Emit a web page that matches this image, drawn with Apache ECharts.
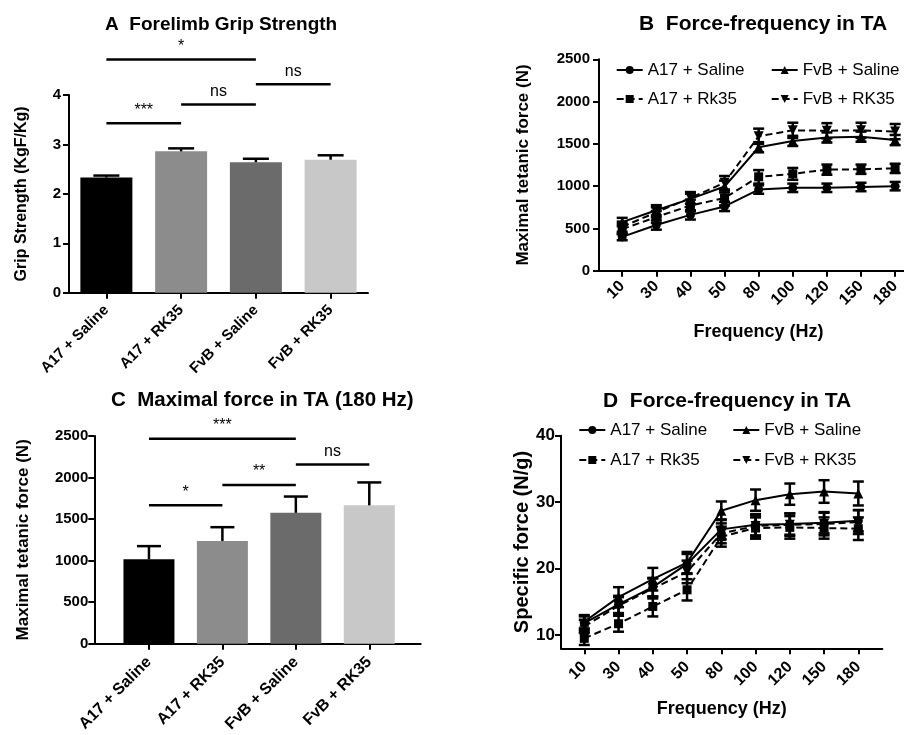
<!DOCTYPE html>
<html>
<head>
<meta charset="utf-8">
<script src="https://cdn.jsdelivr.net/npm/echarts@6/dist/echarts.min.js"></script>
<style>
  html, body { margin: 0; padding: 0; background: #fff; }
  #main { width: 904px; height: 735px; }
</style>
</head>
<body>
<div id="main"></div>
<script>
// group names for the bar panels
var groups = ['A17 + Saline', 'A17 + RK35', 'FvB + Saline', 'FvB + RK35'];
// A: grip strength (KgF/Kg)
var gripMean = [2.33, 2.86, 2.64, 2.69];
var gripErr = [0.04, 0.06, 0.07, 0.09];
// [from group, to group, level, label]
var gripSig = [[0, 2, 4.72, '*'], [0, 1, 3.43, '***'], [1, 2, 3.81, 'ns'], [2, 3, 4.22, 'ns']];
// C: maximal force at 180 Hz (N)
var forceMean = [1016, 1236, 1575, 1665];
var forceErr = [158, 166, 196, 276];
var forceSig = [[0, 2, 2468, '***'], [0, 1, 1665, '*'], [1, 2, 1910, '**'], [2, 3, 2157, 'ns']];

// B / D: force-frequency curves
var freqs = ['10', '30', '40', '50', '80', '100', '120', '150', '180'];
var lineNames = ['A17 + Saline', 'A17 + Rk35', 'FvB + Saline', 'FvB + RK35'];
var tetA17Sal = [400, 540, 660, 760, 960, 980, 980, 990, 1000];
var tetA17Rk = [490, 635, 770, 860, 1110, 1145, 1195, 1200, 1210];
var tetFvbSal = [575, 715, 850, 995, 1460, 1535, 1575, 1585, 1545];
var tetFvbRk = [520, 690, 860, 1040, 1590, 1660, 1655, 1660, 1645];
var tetA17SalErr = [40, 55, 55, 55, 50, 50, 50, 50, 50];
var tetA17RkErr = [60, 70, 70, 90, 80, 70, 60, 55, 55];
var tetFvbSalErr = [50, 60, 60, 70, 60, 60, 60, 60, 60];
var tetFvbRkErr = [60, 60, 70, 80, 90, 90, 90, 90, 90];

var specA17Sal = [11.8, 14.6, 17.2, 20.7, 25.9, 26.6, 26.7, 26.9, 27.2];
var specA17Rk = [9.5, 11.7, 14.3, 16.8, 24.8, 26.1, 26.2, 26.1, 26.0];
var specFvbSal = [12.0, 15.7, 18.4, 20.9, 28.7, 30.3, 31.2, 31.6, 31.3];
var specFvbRk = [11.3, 14.4, 17.0, 19.5, 25.3, 26.4, 26.6, 26.7, 27.0];
var specA17SalErr = [1.0, 1.3, 1.4, 1.5, 1.5, 1.6, 1.6, 1.6, 1.6];
var specA17RkErr = [1.0, 1.2, 1.5, 1.6, 1.5, 1.6, 1.7, 1.6, 1.7];
var specFvbSalErr = [1.0, 1.5, 1.7, 1.6, 1.4, 1.6, 1.6, 1.7, 1.8];
var specFvbRkErr = [1.0, 1.3, 1.5, 1.7, 1.5, 1.6, 1.7, 1.7, 1.8];
var specTicks = [10, 20, 30, 40];

var barColors = ['#000000', '#8c8c8c', '#6b6b6b', '#c8c8c8'];
var symbols = ['circle', 'rect', 'triangle', 'path://M0,0 L10,0 L5,10 Z'];
var symbolSizes = [9, 9, 10, 10];
var dashed = [false, true, false, true];

var FONT = '"Liberation Sans", Arial, sans-serif';
var myChart = echarts.init(document.getElementById('main'));

function idx(arr) {
  return arr.map(function (v, i) { return i; });
}

function axisBase(extra) {
  var o = {
    axisLine: { show: true, onZero: false, lineStyle: { color: '#000', width: 2 } },
    axisTick: { show: true, length: 6, lineStyle: { color: '#000', width: 2 } },
    splitLine: { show: false },
    axisLabel: { color: '#000', fontFamily: FONT, fontWeight: 'bold', fontSize: 15 },
    nameTextStyle: { color: '#000', fontFamily: FONT, fontWeight: 'bold', fontSize: 17 }
  };
  for (var k in extra) {
    if (typeof extra[k] === 'object' && o[k] && !Array.isArray(extra[k])) {
      for (var j in extra[k]) o[k][j] = extra[k][j];
    } else {
      o[k] = extra[k];
    }
  }
  return o;
}

// error bars: both sides for curves, upper only for bars
function errRender(capW, upperOnly) {
  return function (params, api) {
    var x = api.value(0), y = api.value(1), e = api.value(2);
    var hi = api.coord([x, y + e]);
    var lo = upperOnly ? api.coord([x, y]) : api.coord([x, y - e]);
    var st = { stroke: '#000', lineWidth: 2.5, fill: null };
    var kids = [
      { type: 'line', shape: { x1: hi[0], y1: hi[1], x2: lo[0], y2: lo[1] }, style: st },
      { type: 'line', shape: { x1: hi[0] - capW / 2, y1: hi[1], x2: hi[0] + capW / 2, y2: hi[1] }, style: st }
    ];
    if (!upperOnly) {
      kids.push({ type: 'line', shape: { x1: lo[0] - capW / 2, y1: lo[1], x2: lo[0] + capW / 2, y2: lo[1] }, style: st });
    }
    return { type: 'group', children: kids };
  };
}

// significance bracket: line between two groups with its label above
function sigRender(params, api) {
  var a = api.coord([api.value(0), api.value(2)]);
  var b = api.coord([api.value(1), api.value(2)]);
  var label = api.value(3);
  return {
    type: 'group',
    children: [
      { type: 'line', shape: { x1: a[0], y1: a[1], x2: b[0], y2: b[1] }, style: { stroke: '#000', lineWidth: 2.5 } },
      { type: 'text', style: { text: label, x: (a[0] + b[0]) / 2, y: a[1] - 5, fill: '#000',
          font: '16px ' + FONT, align: 'center', verticalAlign: 'bottom' } }
    ]
  };
}

var series = [];

// A bars
series.push({
  type: 'bar', xAxisIndex: 0, yAxisIndex: 0, barWidth: 52,
  data: gripMean.map(function (v, i) { return { value: v, itemStyle: { color: barColors[i] } }; })
});
series.push({
  type: 'custom', xAxisIndex: 0, yAxisIndex: 0, renderItem: errRender(26, true), z: 5,
  data: gripMean.map(function (v, i) { return [i, v, gripErr[i]]; })
});
series.push({
  type: 'custom', xAxisIndex: 0, yAxisIndex: 0, renderItem: sigRender, z: 5,
  data: gripSig
});

// C bars
series.push({
  type: 'bar', xAxisIndex: 2, yAxisIndex: 2, barWidth: 51,
  data: forceMean.map(function (v, i) { return { value: [i, v], itemStyle: { color: barColors[i] } }; })
});
series.push({
  type: 'custom', xAxisIndex: 2, yAxisIndex: 2, renderItem: errRender(24, true), z: 5,
  data: forceMean.map(function (v, i) { return [i, v, forceErr[i]]; })
});
series.push({
  type: 'custom', xAxisIndex: 2, yAxisIndex: 2, renderItem: sigRender, z: 5,
  data: forceSig
});

// B and D curves
function addCurves(axisIdx, vals, errs) {
  vals.forEach(function (arr, s) {
    series.push({
      name: lineNames[s], type: 'line', xAxisIndex: axisIdx, yAxisIndex: axisIdx,
      symbol: symbols[s], symbolSize: symbolSizes[s], showSymbol: true,
      itemStyle: { color: '#000' },
      lineStyle: { color: '#000', width: 2, type: dashed[s] ? [7, 4] : 'solid' },
      data: arr.map(function (v, i) { return [i, v]; }), z: 4
    });
    series.push({
      type: 'custom', xAxisIndex: axisIdx, yAxisIndex: axisIdx, renderItem: errRender(11, false), z: 3,
      data: arr.map(function (v, i) { return [i, v, errs[s][i]]; })
    });
  });
}
addCurves(1, [tetA17Sal, tetA17Rk, tetFvbSal, tetFvbRk], [tetA17SalErr, tetA17RkErr, tetFvbSalErr, tetFvbRkErr]);
addCurves(3, [specA17Sal, specA17Rk, specFvbSal, specFvbRk], [specA17SalErr, specA17RkErr, specFvbSalErr, specFvbRkErr]);

function freqLabel(v) { return freqs[Math.round(v)]; }
function groupLabel(v) { return groups[Math.round(v)]; }
function plain(v) { return String(v); }

function legendAt(name, left, top) {
  return {
    data: [name], left: left, top: top, padding: 0, itemWidth: 26, itemHeight: 10,
    selectedMode: false,
    textStyle: { color: '#000', fontFamily: FONT, fontSize: 17 }
  };
}

function titleStyle(size) {
  return { color: '#000', fontFamily: FONT, fontWeight: 'bold', fontSize: size };
}

myChart.setOption({
  animation: false,
  title: [
    { text: 'A  Forelimb Grip Strength', left: 105, top: 15, padding: 0, textStyle: titleStyle(19) },
    { text: 'B  Force-frequency in TA', left: 639, top: 14, padding: 0, textStyle: titleStyle(21) },
    { text: 'C  Maximal force in TA (180 Hz)', left: 111, top: 390, padding: 0, textStyle: titleStyle(20.5) },
    { text: 'D  Force-frequency in TA', left: 603, top: 391, padding: 0, textStyle: titleStyle(21) }
  ],
  legend: [
    legendAt(lineNames[0], 615.7, 61.5), legendAt(lineNames[2], 770.7, 61.5),
    legendAt(lineNames[1], 615.7, 90.5), legendAt(lineNames[3], 770.7, 90.5),
    legendAt(lineNames[0], 578.3, 421.5), legendAt(lineNames[2], 732.3, 421.5),
    legendAt(lineNames[1], 578.3, 451.5), legendAt(lineNames[3], 732.3, 451.5)
  ],
  grid: [
    { left: 69, top: 95, width: 299, height: 197.7 },
    { left: 599, top: 59.3, width: 305, height: 211.4 },
    { left: 94.3, top: 436, width: 326.4, height: 211.7 },
    { left: 561, top: 435.7, width: 321.3, height: 212.6 }
  ],
  xAxis: [
    axisBase({ gridIndex: 0, type: 'category', data: groups, boundaryGap: true,
      axisTick: { alignWithLabel: true },
      axisLabel: { rotate: 45, fontSize: 15, margin: 15, interval: 0 } }),
    axisBase({ gridIndex: 1, type: 'value', min: -0.68, max: 8.26,
      axisTick: { customValues: idx(freqs) },
      axisLabel: { customValues: idx(freqs), formatter: freqLabel, rotate: 45, fontSize: 16, margin: 13 },
      name: 'Frequency (Hz)', nameLocation: 'middle', nameGap: 52,
      nameTextStyle: { fontSize: 18, padding: [0, 0, 0, 14] } }),
    axisBase({ gridIndex: 2, type: 'value', min: -0.744, max: 3.7,
      axisTick: { customValues: idx(groups) },
      axisLabel: { customValues: idx(groups), formatter: groupLabel, rotate: 45, fontSize: 16, margin: 16 } }),
    axisBase({ gridIndex: 3, type: 'value', min: -0.68, max: 8.7,
      axisTick: { customValues: idx(freqs) },
      axisLabel: { customValues: idx(freqs), formatter: freqLabel, rotate: 45, fontSize: 16, margin: 16 },
      name: 'Frequency (Hz)', nameLocation: 'middle', nameGap: 52, nameTextStyle: { fontSize: 18 } })
  ],
  yAxis: [
    axisBase({ gridIndex: 0, type: 'value', min: 0, max: 4, interval: 1,
      axisLabel: { margin: 8, formatter: plain },
      name: 'Grip Strength (KgF/Kg)', nameLocation: 'middle', nameGap: 39, nameTextStyle: { fontSize: 16 } }),
    axisBase({ gridIndex: 1, type: 'value', min: 0, max: 2500, interval: 500,
      axisLabel: { margin: 9, formatter: plain },
      name: 'Maximal tetanic force (N)', nameLocation: 'middle', nameGap: 67 }),
    axisBase({ gridIndex: 2, type: 'value', min: 0, max: 2500, interval: 500,
      axisLabel: { margin: 6, formatter: plain },
      name: 'Maximal tetanic force (N)', nameLocation: 'middle', nameGap: 62 }),
    axisBase({ gridIndex: 3, type: 'value', min: 8, max: 40,
      axisTick: { customValues: specTicks },
      axisLabel: { customValues: specTicks, margin: 6, fontSize: 17, formatter: plain },
      name: 'Specific force (N/g)', nameLocation: 'middle', nameGap: 29, nameTextStyle: { fontSize: 20 } })
  ],
  series: series
});
</script>
</body>
</html>
